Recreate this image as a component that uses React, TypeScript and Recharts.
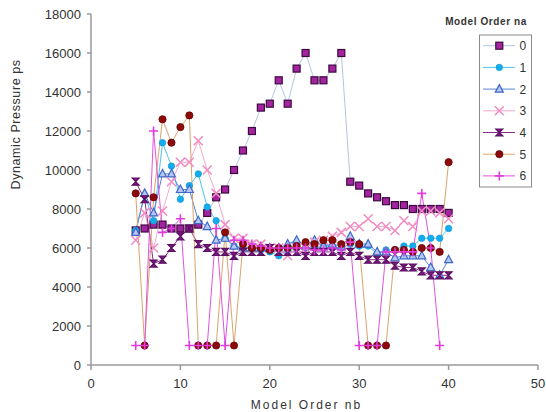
import { Legend, Line, LineChart, XAxis, YAxis } from 'recharts';

const modelOrderNb = [5, 6, 7, 8, 9, 10, 11, 12, 13, 14, 15, 16, 17, 18, 19, 20, 21, 22, 23, 24, 25, 26, 27, 28, 29, 30, 31, 32, 33, 34, 35, 36, 37, 38, 39, 40];

const na0 = [6900, 7000, 7200, 7200, 7000, 7000, 7000, 7200, 7800, 8600, 9000, 10000, 11000, 12000, 13200, 13400, 14600, 13400, 15200, 16000, 14600, 14600, 15200, 16000, 9400, 9200, 8800, 8600, 8400, 8200, 8200, 8000, 8000, 8000, 8000, 7800];
const na1 = [6900, 8700, 7400, 11400, 10200, 8500, 9200, 9800, 8100, 7400, 6500, 6100, 6000, 6000, 5900, 5800, 5600, 5800, 6000, 6000, 6000, 6100, 6000, 6000, 6200, 6100, 6100, 5700, 5900, 5900, 6100, 6100, 6500, 6500, 6500, 7000];
const na2 = [6800, 8800, 7800, 9800, 9800, 9000, 9000, 7400, 7100, 6400, 6500, 6100, 6000, 6000, 6000, 6000, 6000, 6200, 6400, 6100, 6400, 6100, 6200, 6100, 6600, 6200, 6200, 5800, 5800, 5500, 5600, 5600, 5600, 5000, 4600, 5400];
const na3 = [6400, 7800, 6000, 7900, 9400, 10400, 10400, 11500, 10000, 8800, 7200, 6500, 6500, 6200, 6200, 6000, 6000, 5600, 6000, 6000, 6300, 6400, 6600, 6800, 7100, 7100, 7500, 7100, 7100, 6900, 7400, 7100, 7900, 7900, 7800, 7500];
const na4 = [9400, 8500, 5200, 5400, 6000, 6600, 7000, 6200, 6000, 5800, 5800, 5600, 5800, 5800, 5800, 6000, 5800, 5800, 5800, 5600, 5800, 5800, 5800, 5600, 5800, 5600, 5400, 5400, 5400, 5100, 5000, 5000, 4800, 4600, 4600, 4600];
const na5 = [8800, 1000, 8600, 12600, 11400, 12200, 12800, 1000, 1000, 1000, 6800, 1000, 6200, 6000, 6000, 5900, 6000, 6000, 6100, 6300, 6200, 6400, 6400, 6200, 6300, 6200, 1000, 1000, 1000, 5900, 5900, 5800, 6000, 6000, 5800, 10400];
const na6 = [1000, 1000, 12000, 6800, 7000, 7500, 1000, 1000, 1000, 7000, 1000, 6400, 6400, 6200, 6100, 6000, 6000, 6000, 6000, 6000, 5900, 5900, 6000, 5900, 6300, 1000, 1000, 1000, 5800, 5800, 5800, 5800, 8800, 6000, 1000, null];

const xTicks = [0, 10, 20, 30, 40, 50];
const yTicks = [0, 2000, 4000, 6000, 8000, 10000, 12000, 14000, 16000, 18000];

const series = [
  { key: 'na0', name: '0', values: na0, line: '#b4c6e0', marker: 'square' },
  { key: 'na1', name: '1', values: na1, line: '#4cc6ee', marker: 'dot' },
  { key: 'na2', name: '2', values: na2, line: '#5b80d2', marker: 'triangle' },
  { key: 'na3', name: '3', values: na3, line: '#f3a9cf', marker: 'cross' },
  { key: 'na4', name: '4', values: na4, line: '#8a2b8e', marker: 'hourglass' },
  { key: 'na5', name: '5', values: na5, line: '#d9a46c', marker: 'circle' },
  { key: 'na6', name: '6', values: na6, line: '#e052de', marker: 'plus' },
];

const rows = modelOrderNb.map((x, i) => {
  const row: Record<string, number | null> = { x };
  series.forEach((s) => {
    row[s.key] = s.values[i];
  });
  return row;
});

const font = 'Liberation Sans, Arial, sans-serif';

function drawMarker(kind: string, cx: number, cy: number) {
  switch (kind) {
    case 'square':
      return <rect x={cx - 3.5} y={cy - 3.5} width={7} height={7} fill="#a4239f" stroke="#3c0a40" strokeWidth={1.2} />;
    case 'dot':
      return <circle cx={cx} cy={cy} r={3.2} fill="#10aef0" stroke="#1a9ad8" strokeWidth={0.8} />;
    case 'triangle':
      return (
        <path
          d={`M${cx},${cy - 4.5} L${cx + 4},${cy + 3} L${cx - 4},${cy + 3} Z`}
          fill="#b4c8f2"
          stroke="#3f68c8"
          strokeWidth={1.2}
        />
      );
    case 'cross':
      return (
        <path
          d={`M${cx - 4.5},${cy - 4.5} L${cx + 4.5},${cy + 4.5} M${cx - 4.5},${cy + 4.5} L${cx + 4.5},${cy - 4.5}`}
          stroke="#f08cc2"
          strokeWidth={1.5}
          fill="none"
        />
      );
    case 'hourglass':
      return (
        <path
          d={`M${cx - 3.5},${cy - 3.5} L${cx + 3.5},${cy - 3.5} L${cx - 3.5},${cy + 3.5} L${cx + 3.5},${cy + 3.5} Z`}
          fill="#7a1a80"
          stroke="#5a0f60"
          strokeWidth={1.2}
        />
      );
    case 'circle':
      return <circle cx={cx} cy={cy} r={3.6} fill="#8c0a0a" stroke="#6a0000" strokeWidth={0.8} />;
    default:
      return (
        <path
          d={`M${cx - 4.5},${cy} L${cx + 4.5},${cy} M${cx},${cy - 4.5} L${cx},${cy + 4.5}`}
          stroke="#e03cdc"
          strokeWidth={1.6}
          fill="none"
        />
      );
  }
}

const makeDot = (kind: string, key: string) => (props: any) => {
  const { cx, cy, index, value } = props;
  if (cx == null || cy == null || value == null) return <g key={`${key}-${index}`} />;
  return <g key={`${key}-${index}`}>{drawMarker(kind, cx, cy)}</g>;
};

function LegendBox() {
  return (
    <svg width={106} height={186} style={{ display: 'block' }}>
      <text x={46} y={17.5} textAnchor="middle" fontSize={10} fontWeight="bold" fill="#333" fontFamily={font} letterSpacing={0.6}>
        Model Order na
      </text>
      <rect x={39.5} y={28} width={52} height={152} fill="#fff" stroke="#8a8a8a" />
      {series.map((s, i) => {
        const cy = 38.7 + i * 21.7;
        return (
          <g key={s.key}>
            <line x1={43} x2={75} y1={cy} y2={cy} stroke={s.line} strokeWidth={1} />
            {drawMarker(s.marker, 59.3, cy)}
            <text x={79.5} y={cy + 4.5} fontSize={12} fill="#333" fontFamily={font}>
              {s.name}
            </text>
          </g>
        );
      })}
    </svg>
  );
}

export default function App() {
  return (
    <div style={{ position: 'absolute', left: 0, top: 0, width: 546, height: 412, background: '#fff' }}>
      <LineChart width={546} height={412} data={rows} margin={{ top: 14, right: 8, bottom: 0, left: 0 }}>
        <XAxis
          type="number"
          dataKey="x"
          domain={[0, 50]}
          ticks={xTicks}
          height={47}
          stroke="#9a9a9a"
          strokeWidth={1.5}
          tickSize={5}
          tickMargin={9}
          tick={{ fill: '#333', fontSize: 13, fontFamily: font }}
          label={{
            value: 'Model Order nb',
            position: 'insideBottom',
            offset: 3,
            dx: -8,
            fill: '#333',
            fontSize: 12,
            fontFamily: font,
            letterSpacing: 2,
          }}
        />
        <YAxis
          type="number"
          domain={[0, 18000]}
          ticks={yTicks}
          width={91}
          stroke="#9a9a9a"
          strokeWidth={1.5}
          tickSize={4}
          tickMargin={6}
          tick={{ fill: '#333', fontSize: 13, fontFamily: font }}
          label={{
            value: 'Dynamic Pressure ps',
            angle: -90,
            position: 'insideLeft',
            offset: 16,
            fill: '#333',
            fontSize: 12.5,
            fontFamily: font,
            letterSpacing: 0.6,
          }}
        />
        <Legend
          layout="vertical"
          align="center"
          verticalAlign="middle"
          content={() => <LegendBox />}
          wrapperStyle={{ top: 7, left: 440, width: 106 }}
        />
        {series.map((s) => (
          <Line
            key={s.key}
            type="linear"
            dataKey={s.key}
            name={s.name}
            stroke={s.line}
            strokeWidth={1}
            dot={makeDot(s.marker, s.key)}
            activeDot={false}
            isAnimationActive={false}
          />
        ))}
      </LineChart>
    </div>
  );
}
